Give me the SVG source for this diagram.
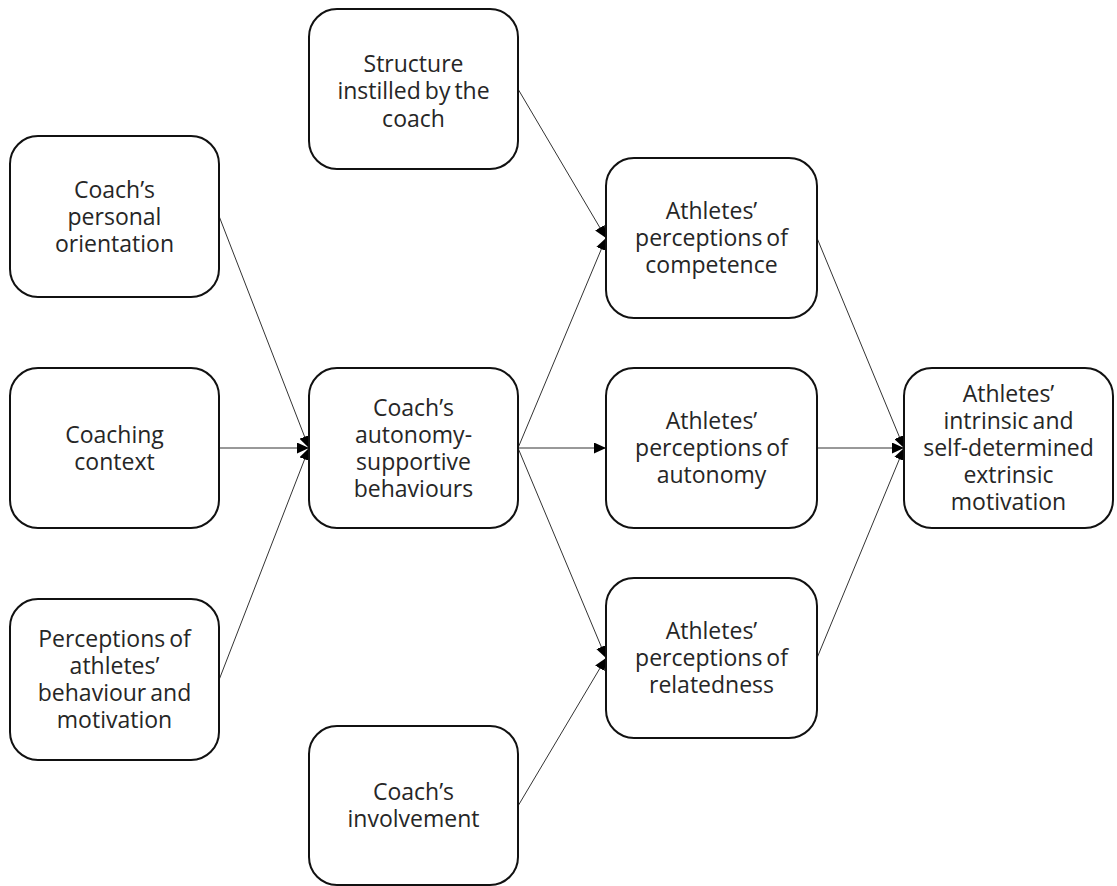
<svg xmlns="http://www.w3.org/2000/svg" width="1117" height="886" viewBox="0 0 1117 886">
<style>
.box{fill:#fff;stroke:#111;stroke-width:2}
.t{font-family:"Open Sans","Noto Sans",sans-serif;font-size:23px;fill:#262626;text-anchor:middle;word-spacing:-2px}
.c{stroke:#333;stroke-width:1;fill:none;marker-end:url(#ah)}
</style>
<defs>
<marker id="ah" viewBox="0 0 12 11" refX="12" refY="5.5" markerWidth="12" markerHeight="11" markerUnits="userSpaceOnUse" orient="auto">
<path d="M0,0 L12,5.5 L0,11 Z" fill="#000"/>
</marker>
</defs>
<rect width="1117" height="886" fill="#fff"/>
<g id="connectors">
<line class="c" x1="219" y1="216" x2="309" y2="448"/>
<line class="c" x1="219" y1="448" x2="309" y2="448"/>
<line class="c" x1="219" y1="680" x2="309" y2="448"/>
<line class="c" x1="518" y1="89" x2="606" y2="238"/>
<line class="c" x1="518" y1="448" x2="606" y2="238"/>
<line class="c" x1="518" y1="448" x2="606" y2="448"/>
<line class="c" x1="518" y1="448" x2="606" y2="658"/>
<line class="c" x1="518" y1="806" x2="606" y2="658"/>
<line class="c" x1="817" y1="238" x2="904" y2="448"/>
<line class="c" x1="817" y1="448" x2="904" y2="448"/>
<line class="c" x1="817" y1="658" x2="904" y2="448"/>
</g>
<g id="structure">
<rect class="box" x="309" y="9" width="209" height="160" rx="28"/>
<text class="t"><tspan x="413.5" y="71.5">Structure</tspan><tspan x="413.5" y="99">instilled by the</tspan><tspan x="413.5" y="126.5">coach</tspan></text>
</g>
<g id="orientation">
<rect class="box" x="10" y="136" width="209" height="161" rx="28"/>
<text class="t"><tspan x="114.5" y="197.5">Coach’s</tspan><tspan x="114.5" y="224.5">personal</tspan><tspan x="114.5" y="251.5">orientation</tspan></text>
</g>
<g id="context">
<rect class="box" x="10" y="368" width="209" height="160" rx="28"/>
<text class="t"><tspan x="114.5" y="442.5">Coaching</tspan><tspan x="114.5" y="469.5">context</tspan></text>
</g>
<g id="perceptions">
<rect class="box" x="10" y="599" width="209" height="161" rx="28"/>
<text class="t"><tspan x="114.5" y="647">Perceptions of</tspan><tspan x="114.5" y="674">athletes’</tspan><tspan x="114.5" y="701">behaviour and</tspan><tspan x="114.5" y="728">motivation</tspan></text>
</g>
<g id="autonomy-supportive">
<rect class="box" x="309" y="368" width="209" height="160" rx="28"/>
<text class="t"><tspan x="413.5" y="415.5">Coach’s</tspan><tspan x="413.5" y="442.5">autonomy-</tspan><tspan x="413.5" y="469.5">supportive</tspan><tspan x="413.5" y="496.5">behaviours</tspan></text>
</g>
<g id="involvement">
<rect class="box" x="309" y="726" width="209" height="159" rx="28"/>
<text class="t"><tspan x="413.5" y="800">Coach’s</tspan><tspan x="413.5" y="827">involvement</tspan></text>
</g>
<g id="competence">
<rect class="box" x="606" y="158" width="211" height="160" rx="28"/>
<text class="t"><tspan x="711.5" y="219">Athletes’</tspan><tspan x="711.5" y="246">perceptions of</tspan><tspan x="711.5" y="273">competence</tspan></text>
</g>
<g id="autonomy">
<rect class="box" x="606" y="368" width="211" height="160" rx="28"/>
<text class="t"><tspan x="711.5" y="429">Athletes’</tspan><tspan x="711.5" y="456">perceptions of</tspan><tspan x="711.5" y="483">autonomy</tspan></text>
</g>
<g id="relatedness">
<rect class="box" x="606" y="578" width="211" height="160" rx="28"/>
<text class="t"><tspan x="711.5" y="639">Athletes’</tspan><tspan x="711.5" y="666">perceptions of</tspan><tspan x="711.5" y="693">relatedness</tspan></text>
</g>
<g id="motivation">
<rect class="box" x="904" y="368" width="209" height="160" rx="28"/>
<text class="t"><tspan x="1008.5" y="402">Athletes’</tspan><tspan x="1008.5" y="429">intrinsic and</tspan><tspan x="1008.5" y="456">self-determined</tspan><tspan x="1008.5" y="483">extrinsic</tspan><tspan x="1008.5" y="510">motivation</tspan></text>
</g>
</svg>
